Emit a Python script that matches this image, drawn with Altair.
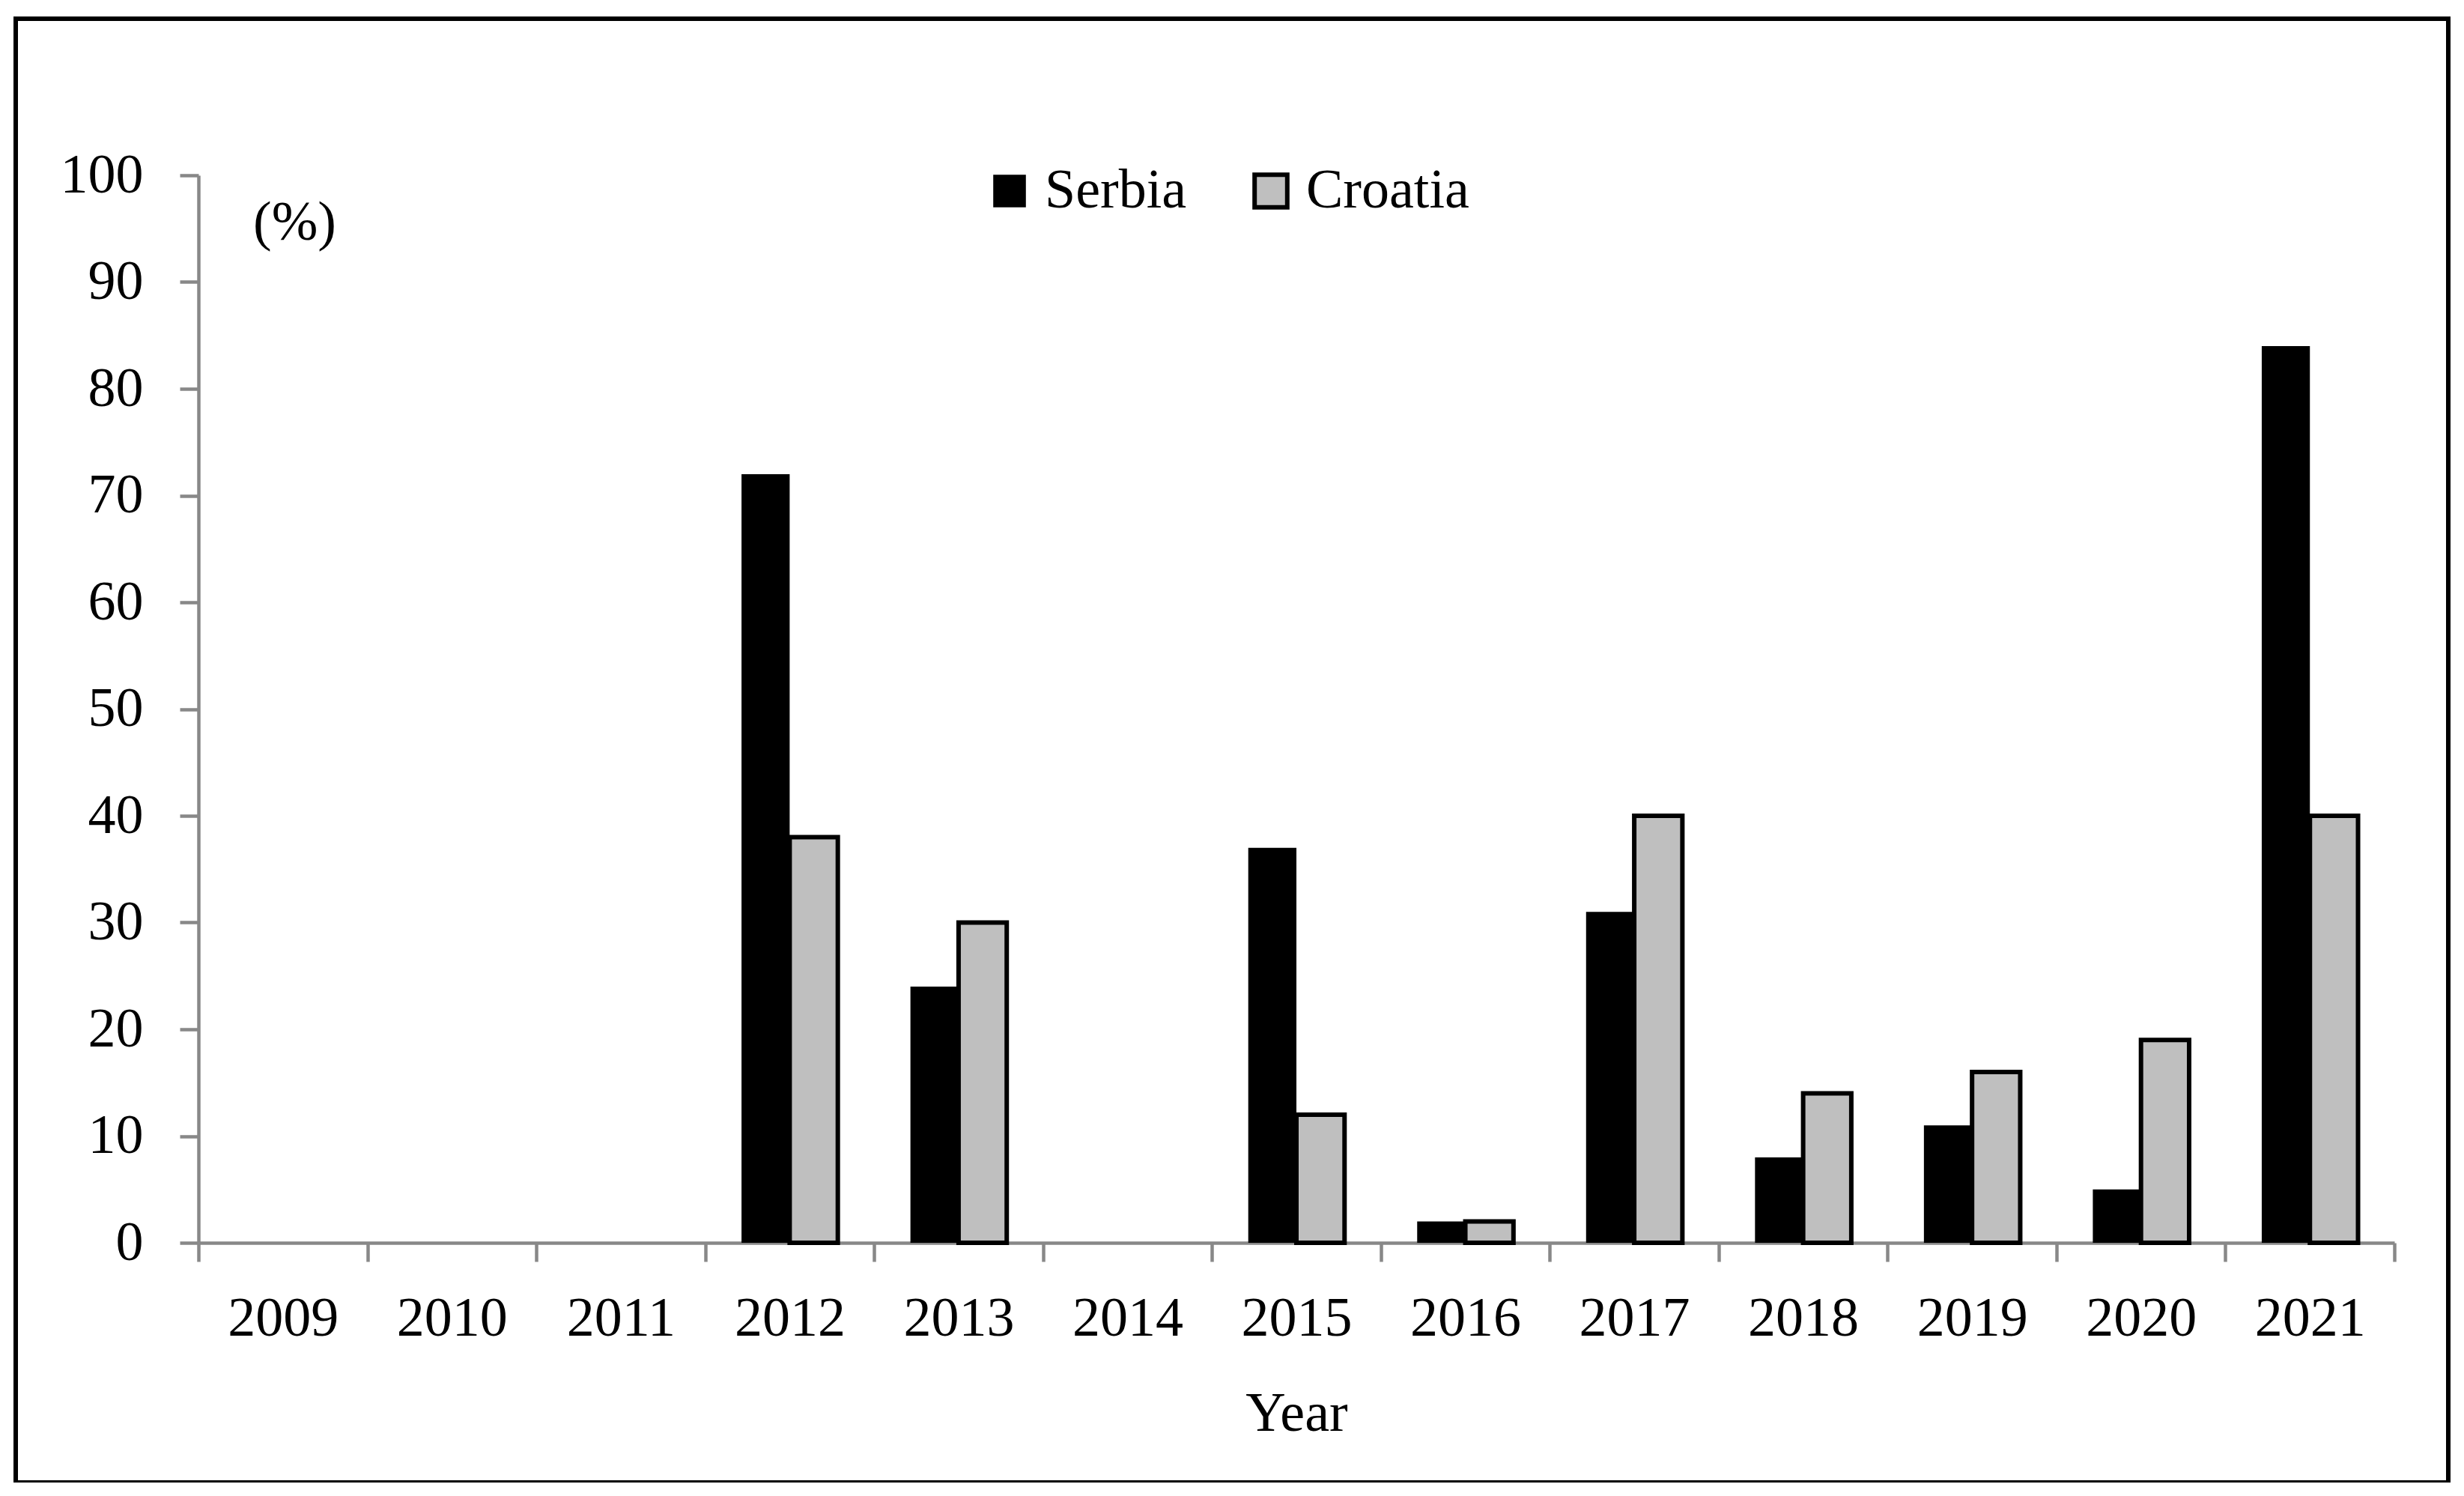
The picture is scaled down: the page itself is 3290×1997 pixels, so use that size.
import altair as alt
import pandas as pd

years = ["2009", "2010", "2011", "2012", "2013", "2014", "2015",
         "2016", "2017", "2018", "2019", "2020", "2021"]
serbia = [0, 0, 0, 72, 24, 0, 37, 2, 31, 8, 11, 5, 84]
croatia = [0, 0, 0, 38, 30, 0, 12, 2, 40, 14, 16, 19, 40]
series = ["Serbia", "Croatia"]
y_ticks = [0, 10, 20, 30, 40, 50, 60, 70, 80, 90, 100]

rows = []
for i, yr in enumerate(years):
    rows.append({"year": yr, "series": "Serbia", "value": serbia[i]})
    rows.append({"year": yr, "series": "Croatia", "value": croatia[i]})
df = pd.DataFrame(rows)

FONT = "Liberation Serif"
FS = 74
W, H = 2932, 1425
GRAY = "#888888"

bars = alt.Chart(df).transform_filter("datum.value > 0").mark_bar(
    stroke="black"
).encode(
    x=alt.X("year:N", sort=years, scale=alt.Scale(domain=years, paddingInner=0, paddingOuter=0),
            axis=alt.Axis(title="Year", labelAngle=0, tickBand="extent",
                          titleY=228, titleBaseline="middle")),
    xOffset=alt.XOffset("series:N", sort=series,
                        scale=alt.Scale(domain=series, paddingInner=0, paddingOuter=0.754)),
    y=alt.Y("value:Q", scale=alt.Scale(domain=[0, 100], nice=False),
            axis=alt.Axis(title="(%)", values=y_ticks, titleAngle=0, titleX=128, titleY=63,
                          titleAlign="center", titleBaseline="middle")),
    color=alt.Color("series:N", sort=series,
                    scale=alt.Scale(domain=series, range=["#000000", "#BFBFBF"]),
                    legend=alt.Legend(title=None, orient="none", legendX=1046, legendY=-16,
                                      direction="horizontal", symbolType="square",
                                      symbolSize=1900, symbolStrokeColor="black",
                                      symbolStrokeWidth=6, labelFontSize=FS, labelFont=FONT,
                                      labelColor="black", labelOffset=10, columnPadding=75,
                                      labelLimit=0)),
    strokeWidth=alt.StrokeWidth("series:N", scale=alt.Scale(domain=series, range=[0, 6]), legend=None),
)

frame_df = pd.DataFrame({"k": [0]})
frame = alt.Chart(frame_df).mark_rect(fillOpacity=0, stroke="black", strokeWidth=6).encode(
    x=alt.value(-244), x2=alt.value(3004), y=alt.value(-209), y2=alt.value(1745)
)

chart = alt.layer(bars, frame).properties(
    width=W, height=H,
    autosize=alt.AutoSizeParams(type="none"),
    padding={"left": 257, "top": 226, "right": 85, "bottom": 320},
).configure_view(stroke=None).configure_axis(
    grid=False,
    domainColor=GRAY, domainWidth=4.5,
    tickColor=GRAY, tickWidth=4.5, tickSize=25,
    labelFont=FONT, labelFontSize=FS, labelColor="black",
    titleFont=FONT, titleFontSize=FS, titleFontWeight="normal", titleColor="black",
).configure_axisY(labelPadding=49).configure_axisX(labelPadding=40)

chart.save("out.html", embed_options={"renderer": "svg", "actions": False})
